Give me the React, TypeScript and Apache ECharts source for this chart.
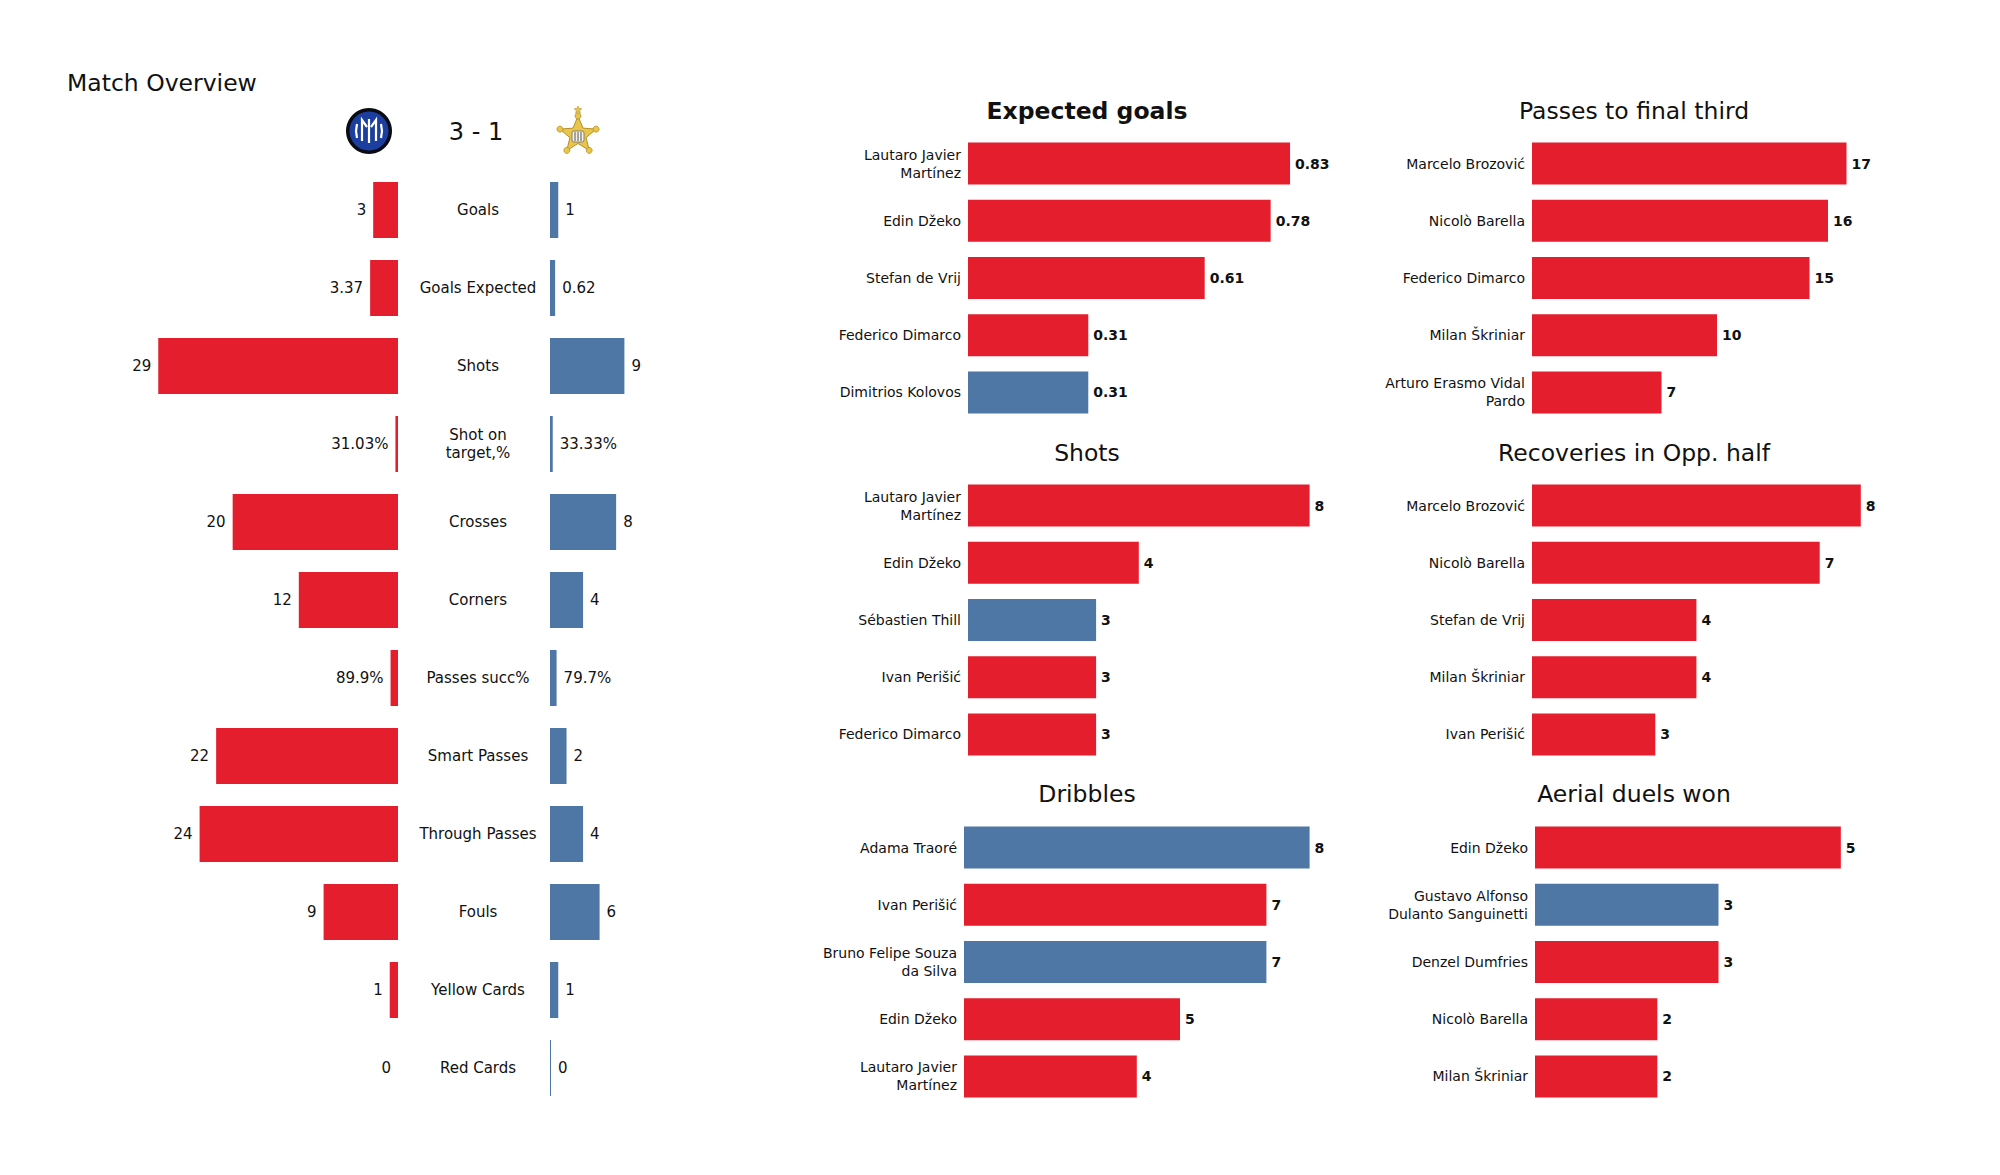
import React, { useEffect, useRef } from "react";
import * as echarts from "echarts";

const RED = "#E41E2C";
const BLUE = "#4E77A5";
const TEXT = "#111111";
const FONT = "DejaVu Sans";

// ---- Match overview (left panel) ----
const overviewCategories = [
  "Goals",
  "Goals Expected",
  "Shots",
  "Shot on\ntarget,%",
  "Crosses",
  "Corners",
  "Passes succ%",
  "Smart Passes",
  "Through Passes",
  "Fouls",
  "Yellow Cards",
  "Red Cards",
];
const homeValues = [3, 3.37, 29, 0.3103, 20, 12, 0.899, 22, 24, 9, 1, 0];
const awayValues = [1, 0.62, 9, 0.3333, 8, 4, 0.797, 2, 4, 6, 1, 0];
const homeLabels = ["3", "3.37", "29", "31.03%", "20", "12", "89.9%", "22", "24", "9", "1", "0"];
const awayLabels = ["1", "0.62", "9", "33.33%", "8", "4", "79.7%", "2", "4", "6", "1", "0"];
const scoreText = "3 - 1";

// ---- Player panels ----
const xgPlayers = ["Lautaro Javier\nMartínez", "Edin Džeko", "Stefan de Vrij", "Federico Dimarco", "Dimitrios Kolovos"];
const xgValues = [0.83, 0.78, 0.61, 0.31, 0.31];
const xgTeams = ["home", "home", "home", "home", "away"];

const passesPlayers = ["Marcelo Brozović", "Nicolò Barella", "Federico Dimarco", "Milan Škriniar", "Arturo Erasmo Vidal\nPardo"];
const passesValues = [17, 16, 15, 10, 7];
const passesTeams = ["home", "home", "home", "home", "home"];

const shotsPlayers = ["Lautaro Javier\nMartínez", "Edin Džeko", "Sébastien Thill", "Ivan Perišić", "Federico Dimarco"];
const shotsValues = [8, 4, 3, 3, 3];
const shotsTeams = ["home", "home", "away", "home", "home"];

const recoveriesPlayers = ["Marcelo Brozović", "Nicolò Barella", "Stefan de Vrij", "Milan Škriniar", "Ivan Perišić"];
const recoveriesValues = [8, 7, 4, 4, 3];
const recoveriesTeams = ["home", "home", "home", "home", "home"];

const dribblesPlayers = ["Adama Traoré", "Ivan Perišić", "Bruno Felipe Souza\nda Silva", "Edin Džeko", "Lautaro Javier\nMartínez"];
const dribblesValues = [8, 7, 7, 5, 4];
const dribblesTeams = ["away", "home", "away", "home", "home"];

const aerialPlayers = ["Edin Džeko", "Gustavo Alfonso\nDulanto Sanguinetti", "Denzel Dumfries", "Nicolò Barella", "Milan Škriniar"];
const aerialValues = [5, 3, 3, 2, 2];
const aerialTeams = ["home", "away", "home", "home", "home"];

const panelTitles = ["Expected goals", "Passes to final third", "Shots", "Recoveries in Opp. half", "Dribbles", "Aerial duels won"];

function starPoints(cx: number, cy: number, ro: number, ri: number) {
  const pts: number[][] = [];
  for (let k = 0; k < 10; k++) {
    const a = (-90 + k * 36) * Math.PI / 180;
    const r = k % 2 === 0 ? ro : ri;
    pts.push([cx + r * Math.cos(a), cy + r * Math.sin(a)]);
  }
  return pts;
}

function buildOption() {
  const panels = [
    { title: panelTitles[0], bold: true, players: xgPlayers, values: xgValues, teams: xgTeams, max: 1, left: 968, top: 135, width: 388, tx: 1087, ty: 111 },
    { title: panelTitles[1], bold: false, players: passesPlayers, values: passesValues, teams: passesTeams, max: 20, left: 1532, top: 135, width: 370, tx: 1634, ty: 111 },
    { title: panelTitles[2], bold: false, players: shotsPlayers, values: shotsValues, teams: shotsTeams, max: 10, left: 968, top: 477, width: 427, tx: 1087, ty: 453 },
    { title: panelTitles[3], bold: false, players: recoveriesPlayers, values: recoveriesValues, teams: recoveriesTeams, max: 10, left: 1532, top: 477, width: 411, tx: 1634, ty: 453 },
    { title: panelTitles[4], bold: false, players: dribblesPlayers, values: dribblesValues, teams: dribblesTeams, max: 10, left: 964, top: 819, width: 432, tx: 1087, ty: 794 },
    { title: panelTitles[5], bold: false, players: aerialPlayers, values: aerialValues, teams: aerialTeams, max: 6, left: 1535, top: 819, width: 367, tx: 1634, ty: 794 },
  ];
  const panelHeight = 286;

  const grid: any[] = [
    { left: 150, top: 171, width: 248, height: 936 },
    { left: 550, top: 171, width: 248, height: 936 },
  ];
  const xAxis: any[] = [
    { gridIndex: 0, type: "value", min: 0, max: 30, inverse: true, show: false },
    { gridIndex: 1, type: "value", min: 0, max: 30, show: false },
  ];
  const yAxis: any[] = [
    { gridIndex: 0, type: "category", inverse: true, data: overviewCategories, show: false },
    {
      gridIndex: 1,
      type: "category",
      inverse: true,
      data: overviewCategories,
      axisLine: { show: false },
      axisTick: { show: false },
      splitLine: { show: false },
      axisLabel: {
        interval: 0,
        align: "center",
        margin: 72,
        fontSize: 15,
        lineHeight: 18,
        color: TEXT,
        fontFamily: FONT,
      },
    },
  ];
  const series: any[] = [
    {
      type: "bar",
      xAxisIndex: 0,
      yAxisIndex: 0,
      data: homeValues,
      barWidth: 56,
      itemStyle: { color: RED },
      label: {
        show: true,
        position: "left",
        distance: 7,
        fontSize: 15,
        color: TEXT,
        fontFamily: FONT,
        formatter: (p: any) => homeLabels[p.dataIndex],
      },
    },
    {
      type: "bar",
      xAxisIndex: 1,
      yAxisIndex: 1,
      data: awayValues,
      barWidth: 56,
      barMinHeight: 1,
      itemStyle: { color: BLUE },
      label: {
        show: true,
        position: "right",
        distance: 7,
        fontSize: 15,
        color: TEXT,
        fontFamily: FONT,
        formatter: (p: any) => awayLabels[p.dataIndex],
      },
    },
  ];

  const graphic: any[] = [
    {
      type: "text",
      x: 67,
      y: 83,
      style: { text: "Match Overview", fontSize: 23.5, fontFamily: FONT, fill: TEXT, align: "left", verticalAlign: "middle" },
    },
    {
      type: "text",
      x: 476,
      y: 132,
      style: { text: scoreText, fontSize: 24, fontFamily: FONT, fill: TEXT, align: "center", verticalAlign: "middle" },
    },
    // Inter logo
    {
      type: "group",
      x: 369,
      y: 131,
      children: [
        { type: "circle", shape: { cx: 0, cy: 0, r: 23 }, style: { fill: "#0b0b14" } },
        { type: "circle", shape: { cx: 0, cy: 0, r: 19.5 }, style: { fill: "#1c3f9f" } },
        { type: "polyline", shape: { points: [[-12, -7], [-13, 0], [-12, 7]] }, style: { stroke: "#fff", lineWidth: 2.2, fill: "none" } },
        { type: "polyline", shape: { points: [[-7, 10], [-7, -11], [-2, -4]] }, style: { stroke: "#fff", lineWidth: 2.2, fill: "none" } },
        { type: "line", shape: { x1: 0, y1: -12, x2: 0, y2: 12 }, style: { stroke: "#fff", lineWidth: 2.2 } },
        { type: "polyline", shape: { points: [[2, -4], [7, -11], [7, 10]] }, style: { stroke: "#fff", lineWidth: 2.2, fill: "none" } },
        { type: "polyline", shape: { points: [[12, -7], [13, 0], [12, 7]] }, style: { stroke: "#fff", lineWidth: 2.2, fill: "none" } },
      ],
    },
    // Sheriff logo
    {
      type: "group",
      x: 578,
      y: 135,
      children: [
        { type: "polygon", shape: { points: starPoints(0, 0, 19, 8.5) }, style: { fill: "#E8C64B", stroke: "#B68F25", lineWidth: 1 } },
        ...[0, 1, 2, 3, 4].map((k) => {
          const a = (-90 + k * 72) * Math.PI / 180;
          return { type: "circle", shape: { cx: 19 * Math.cos(a), cy: 19 * Math.sin(a), r: 3 }, style: { fill: "#E8C64B", stroke: "#B68F25", lineWidth: 0.8 } };
        }),
        { type: "rect", shape: { x: -6, y: -4, width: 12, height: 11, r: 2 }, style: { fill: "#f4f1e6", stroke: "#6b6b6b", lineWidth: 0.8 } },
        { type: "line", shape: { x1: -3, y1: -3, x2: -3, y2: 6 }, style: { stroke: "#555", lineWidth: 1 } },
        { type: "line", shape: { x1: 0, y1: -3, x2: 0, y2: 6 }, style: { stroke: "#555", lineWidth: 1 } },
        { type: "line", shape: { x1: 3, y1: -3, x2: 3, y2: 6 }, style: { stroke: "#555", lineWidth: 1 } },
        { type: "polygon", shape: { points: starPoints(0, -25, 4, 1.8) }, style: { fill: "#E8C64B", stroke: "#B68F25", lineWidth: 0.6 } },
      ],
    },
  ];

  panels.forEach((p, i) => {
    const gi = i + 2;
    grid.push({ left: p.left, top: p.top, width: p.width, height: panelHeight });
    xAxis.push({ gridIndex: gi, type: "value", min: 0, max: p.max, show: false });
    yAxis.push({
      gridIndex: gi,
      type: "category",
      inverse: true,
      data: p.players,
      axisLine: { show: false },
      axisTick: { show: false },
      splitLine: { show: false },
      axisLabel: {
        interval: 0,
        margin: 7,
        fontSize: 14,
        lineHeight: 18,
        color: TEXT,
        fontFamily: FONT,
        align: "right",
      },
    });
    series.push({
      type: "bar",
      xAxisIndex: gi,
      yAxisIndex: gi,
      barWidth: 42,
      data: p.values.map((v, j) => ({ value: v, itemStyle: { color: p.teams[j] === "home" ? RED : BLUE } })),
      label: {
        show: true,
        position: "right",
        distance: 5,
        fontSize: 14,
        fontWeight: "bold",
        color: TEXT,
        fontFamily: FONT,
        formatter: (q: any) => String(q.value),
      },
    });
    graphic.push({
      type: "text",
      x: p.tx,
      y: p.ty,
      style: {
        text: p.title,
        fontSize: 23.5,
        fontWeight: p.bold ? "bold" : "normal",
        fontFamily: FONT,
        fill: TEXT,
        align: "center",
        verticalAlign: "middle",
      },
    });
  });

  return {
    animation: false,
    backgroundColor: "#ffffff",
    textStyle: { fontFamily: FONT },
    grid,
    xAxis,
    yAxis,
    series,
    graphic,
  };
}

export default function App() {
  const ref = useRef<HTMLDivElement>(null);
  useEffect(() => {
    if (!ref.current) return;
    const chart = echarts.init(ref.current, undefined, { renderer: "svg" });
    chart.setOption(buildOption() as any);
    return () => chart.dispose();
  }, []);
  return (
    <div
      ref={ref}
      style={{ position: "fixed", left: 0, top: 0, width: 2000, height: 1175, background: "#fff" }}
    />
  );
}
